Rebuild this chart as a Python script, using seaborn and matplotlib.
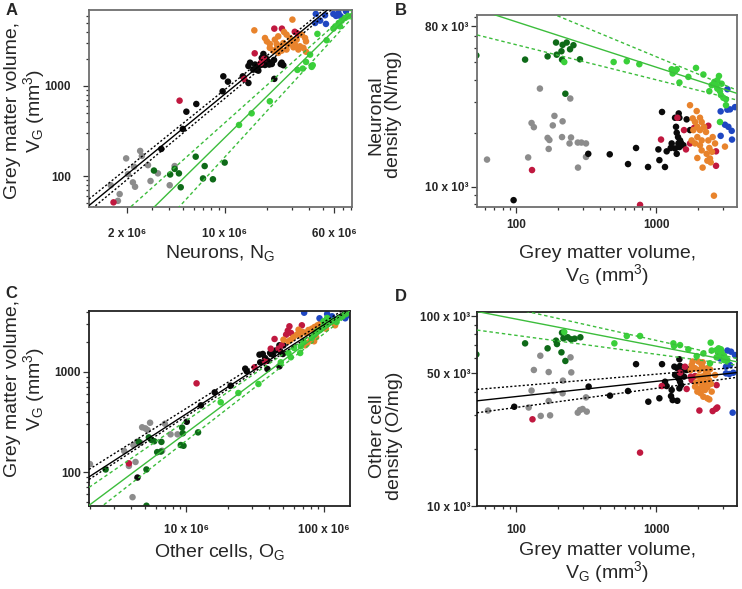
import numpy as np
import pandas as pd
import seaborn as sns
import matplotlib.pyplot as plt
from matplotlib.ticker import FixedLocator, FixedFormatter, LogLocator, NullFormatter

sns.set_style('white')
plt.rcParams['font.family'] = ['Liberation Sans', 'DejaVu Sans']
plt.rcParams['mathtext.default'] = 'regular'

# Panel A: neurons (N) vs grey matter volume (mm3)
A_GRAY = [(2.48e6, 190), (2.55e6, 167), (1.97e6, 157), (2.82e6, 132), (2.24e6, 127), (2.03e6, 105),
          (3.32e6, 107), (4.37e6, 129), (2.94e6, 88), (2.2e6, 85), (2.28e6, 76), (4.03e6, 79),
          (1.53e6, 79), (1.77e6, 63), (1.72e6, 53)]
A_BLACK = [(3.51e6, 200), (5.0e6, 333), (5.3e6, 518), (6.24e6, 631), (9.62e6, 873), (9.73e6, 1280),
           (1.05e7, 1117), (1.34e7, 1280), (1.47e7, 1080), (1.47e7, 1668), (1.51e7, 1816), (1.59e7, 1520),
           (1.64e7, 1730), (1.68e7, 1520), (1.73e7, 1480), (1.78e7, 1700), (1.83e7, 2050), (1.88e7, 2268),
           (1.93e7, 1711), (1.96e7, 2032), (1.99e7, 1880), (2.04e7, 1862), (2.07e7, 1730), (2.16e7, 1755),
           (2.24e7, 1945), (2.25e7, 1200), (2.50e7, 1750), (2.61e7, 1700), (2.54e7, 1816)]
A_RED = [(1.6e6, 51), (4.74e6, 687), (1.37e7, 1196), (1.63e7, 2306), (1.9e7, 1995), (2.25e7, 4335),
         (2.55e7, 4335), (3.3e7, 3811), (3.15e7, 4000), (1.8e7, 1800)]
A_ORANGE = [(1.62e7, 4150), (3.03e7, 5460), (1.99e7, 3130), (2.09e7, 2930), (2.27e7, 3270), (2.34e7, 2930),
            (2.64e7, 3980), (2.75e7, 3720), (2.91e7, 3410), (2.99e7, 3130), (3.16e7, 2880), (3.25e7, 3270),
            (3.53e7, 3720), (3.73e7, 3410), (3.79e7, 3130), (3.43e7, 2760), (3.34e7, 2540), (3.08e7, 2690),
            (2.83e7, 2880), (2.61e7, 3000), (2.47e7, 2760), (2.34e7, 2600), (2.21e7, 2470), (2.09e7, 2650),
            (2.75e7, 2540), (2.54e7, 2470), (2.40e7, 2330), (2.40e7, 3560), (3.63e7, 2650), (1.93e7, 3410),
            (3.79e7, 2400)]
A_BLUE = [(4.45e7, 6310), (5.18e7, 6100), (5.94e7, 6310), (6.21e7, 6000), (6.70e7, 5950), (4.40e7, 5010),
          (4.78e7, 5320), (5.26e7, 4890), (6.46e7, 6470), (7.31e7, 6760)]
A_DKGREEN = [(3.11e6, 115), (4.06e6, 104), (4.37e6, 120), (4.69e6, 107), (6.18e6, 164), (4.83e6, 75),
             (7.16e6, 129), (6.97e6, 94), (8.2e6, 92), (9.95e6, 141)]
A_LTGREEN = [(1.26e7, 369), (1.55e7, 497), (2.09e7, 676), (3.29e7, 1510), (3.59e7, 1560), (4.16e7, 1630),
             (4.23e7, 1700), (3.79e7, 1850), (4.05e7, 2230), (4.57e7, 3790), (5.32e7, 3220), (5.94e7, 4340),
             (6.14e7, 4600), (6.49e7, 5010), (6.81e7, 5320), (7.20e7, 5700), (7.60e7, 5950), (6.62e7, 4600)]

# Panel B: grey matter volume vs neuronal density (N/mg)
B_GRAY = [(148, 35.6e3), (244, 31.3e3), (129, 22.8e3), (134, 21.6e3), (188, 25.0e3), (215, 23.3e3),
          (183, 22.1e3), (168, 18.8e3), (173, 18.3e3), (213, 19.0e3), (247, 18.9e3), (241, 17.5e3),
          (276, 17.7e3), (293, 17.7e3), (316, 17.5e3), (171, 16.3e3), (316, 14.7e3), (122, 14.6e3),
          (62, 14.2e3), (277, 12.8e3)]
B_BLACK = [(96, 8.4e3), (328, 15.3e3), (467, 15.2e3), (631, 13.4e3), (720, 16.5e3), (877, 12.9e3),
           (1104, 26.3e3), (1159, 12.9e3), (1057, 14.1e3), (1040, 16.2e3), (1192, 15.8e3), (1273, 16.5e3),
           (1294, 17.5e3), (1368, 24.4e3), (1453, 25.8e3), (1469, 24.4e3), (1390, 21.7e3), (1406, 20.1e3),
           (1437, 19.0e3), (1485, 18.2e3), (1445, 17.5e3), (1510, 17.6e3), (1568, 17.1e3), (1469, 16.7e3),
           (1406, 15.3e3), (1368, 16.4e3), (1656, 23.9e3), (1750, 20.8e3)]
B_RED = [(130, 12.4e3), (769, 7.9e3), (1422, 24.4e3), (1086, 18.4e3), (1585, 20.8e3), (1750, 17.5e3),
         (1637, 16.2e3), (2365, 22.0e3), (2685, 15.8e3), (2685, 13.1e3), (1871, 21.4e3)]
B_ORANGE = [(1750, 28.7e3), (1953, 26.6e3), (1829, 24.2e3), (1901, 23.1e3), (2062, 24.4e3), (2120, 23.1e3),
            (1974, 21.7e3), (1849, 20.8e3), (2062, 20.8e3), (2203, 21.7e3), (2277, 20.3e3), (1974, 19.0e3),
            (2120, 18.2e3), (1798, 18.2e3), (1901, 17.5e3), (2365, 18.2e3), (2404, 16.5e3), (2062, 17.1e3),
            (2120, 16.0e3), (1974, 14.5e3), (2432, 14.4e3), (2460, 13.7e3), (2153, 12.8e3), (2541, 19.0e3),
            (2642, 17.5e3), (2512, 15.7e3), (2301, 15.3e3), (2328, 14.0e3), (3110, 16.8e3), (2594, 8.9e3)]
B_BLUE = [(3236, 35.3e3), (2897, 26.5e3), (3236, 27.1e3), (3381, 27.2e3), (3667, 28.0e3), (2897, 19.3e3),
          (3110, 22.3e3), (3289, 21.7e3), (3475, 20.6e3), (3491, 18.4e3)]
B_DKGREEN = [(52, 54.7e3), (116, 51.8e3), (168, 54.0e3), (193, 64.6e3), (215, 62.7e3), (230, 64.6e3),
             (257, 62.4e3), (243, 59.2e3), (211, 57.7e3), (195, 55.2e3), (213, 51.8e3), (286, 52.0e3),
             (225, 33.3e3)]
B_LTGREEN = [(221, 50.2e3), (498, 50.2e3), (618, 50.7e3), (760, 48.8e3), (1294, 45.7e3), (1368, 44.6e3),
             (1406, 45.7e3), (1315, 43.3e3), (1470, 38.5e3), (1703, 41.4e3), (1931, 46.5e3), (2180, 42.7e3),
             (2404, 34.4e3), (2500, 37.2e3), (2612, 38.8e3), (2742, 39.6e3), (2818, 41.9e3), (2944, 37.9e3),
             (2742, 35.6e3), (2864, 34.4e3), (2911, 32.7e3), (3027, 31.6e3), (3162, 31.0e3), (2685, 37.2e3),
             (2864, 23.1e3), (3162, 28.7e3)]

# Panel C: other cells (O) vs grey matter volume
C_GRAY = [(4.8e6, 280), (5.07e6, 273), (5.48e6, 311), (5.25e6, 263), (7.01e6, 304), (7.71e6, 238),
          (8.66e6, 238), (6.70e6, 163), (4.42e6, 201), (4.67e6, 196), (4.30e6, 126), (3.85e6, 115),
          (4.09e6, 56), (2.01e6, 120), (3.56e6, 162), (4.15e6, 186)]
C_BLACK = [(4.44e6, 88), (1.01e7, 318), (1.28e7, 464), (1.61e7, 626), (2.1e7, 730), (2.68e7, 1080),
           (2.75e7, 1016), (3.40e7, 1491), (3.44e7, 1250), (3.73e7, 1380), (3.88e7, 1298), (4.06e7, 1549),
           (4.24e7, 1491), (4.41e7, 1634), (4.74e7, 1849), (4.80e7, 1610), (5.02e7, 1514), (5.07e7, 1849),
           (3.88e7, 1072), (4.74e7, 1140), (3.59e7, 1514)]
C_RED = [(1.19e7, 770), (3.85e6, 122), (5.60e7, 2864), (5.45e7, 2588), (5.30e7, 2362), (5.75e7, 2455),
         (6.89e7, 2931), (4.37e7, 2138), (4.10e7, 1710), (4.67e7, 1710), (4.93e7, 1849), (3.73e7, 1279),
         (3.13e7, 1114)]
C_ORANGE = [(6.52e7, 2650), (5.51e7, 2028), (5.73e7, 2104), (5.99e7, 2222), (6.33e7, 2362), (6.70e7, 2328),
            (7.00e7, 2512), (7.40e7, 2455), (7.69e7, 2630), (8.13e7, 2710), (8.51e7, 2818), (8.94e7, 2931),
            (1.03e8, 2710), (8.00e7, 2089), (8.45e7, 2028), (8.74e7, 2222), (7.57e7, 1950), (7.28e7, 1849),
            (1.20e8, 2931), (9.35e7, 3041), (5.07e7, 2104)]
C_BLUE = [(7.16e7, 3917), (9.25e7, 3445), (1.05e8, 3802), (1.14e8, 3605), (1.42e8, 3445), (1.5e8, 3715)]
C_DKGREEN = [(2.61e6, 106), (4.54e6, 200), (5.37e6, 222), (5.61e6, 209), (5.87e6, 203), (6.62e6, 200),
             (6.56e6, 160), (6.17e6, 158), (5.16e6, 106), (5.16e6, 46), (9.35e6, 278), (9.46e6, 244),
             (9.15e6, 186), (9.57e6, 183), (1.22e7, 249)]
C_LTGREEN = [(1.78e7, 498), (2.39e7, 617), (3.34e7, 759), (4.85e7, 1250), (5.73e7, 1403), (5.51e7, 1549),
             (6.05e7, 1738), (6.70e7, 1549), (6.77e7, 1807), (7.08e7, 2028), (8.13e7, 2188), (8.51e7, 2362),
             (8.84e7, 2552), (9.35e7, 2650), (9.89e7, 2864), (1.06e8, 3020), (1.12e8, 3162), (1.17e8, 3261),
             (1.23e8, 3162), (1.27e8, 3467), (1.36e8, 3605), (1.44e8, 3802), (9.89e7, 3214), (1.05e8, 3467)]

# Panel D: grey matter volume vs other cell density (O/mg)
D_GRAY = [(149, 61.8e3), (245, 60.6e3), (134, 52.0e3), (171, 50.7e3), (248, 50.5e3), (216, 45.7e3),
          (129, 40.5e3), (186, 40.3e3), (215, 39.2e3), (171, 35.7e3), (123, 33.0e3), (316, 37.3e3),
          (286, 32.0e3), (299, 32.4e3), (276, 31.0e3), (320, 31.4e3), (63, 31.8e3), (175, 30.0e3),
          (150, 29.8e3)]
D_BLACK = [(97, 33.3e3), (330, 42.5e3), (469, 38.1e3), (631, 40.3e3), (720, 55.8e3), (881, 35.4e3),
           (1104, 55.8e3), (1057, 36.9e3), (1160, 45.1e3), (1191, 42.8e3), (1294, 40.8e3), (1280, 37.9e3),
           (1315, 36.1e3), (1420, 35.8e3), (1368, 49.0e3), (1420, 53.1e3), (1485, 54.6e3), (1469, 59.2e3),
           (1525, 51.0e3), (1584, 48.0e3), (1445, 47.0e3), (1485, 45.1e3), (1469, 41.6e3), (1510, 43.3e3),
           (1656, 52.0e3), (1721, 52.4e3), (1353, 54.1e3)]
D_RED = [(131, 28.6e3), (769, 19.1e3), (1485, 50.3e3), (1099, 42.8e3), (1611, 54.1e3), (1656, 41.3e3),
         (1770, 48.0e3), (1798, 46.0e3), (1901, 48.3e3), (2042, 31.8e3), (2710, 43.3e3), (2685, 32.5e3),
         (2541, 31.6e3), (2742, 33.0e3)]
D_ORANGE = [(1828, 57.6e3), (2009, 57.6e3), (2155, 57.1e3), (1798, 55.2e3), (2120, 55.2e3), (1901, 53.1e3),
            (2042, 52.0e3), (2179, 53.1e3), (2275, 51.0e3), (2328, 53.1e3), (2432, 52.4e3), (2366, 48.9e3),
            (2240, 48.9e3), (2120, 48.0e3), (2009, 48.0e3), (1932, 44.6e3), (2062, 45.1e3), (2203, 46.0e3),
            (2275, 44.2e3), (2404, 45.7e3), (2472, 43.9e3), (2155, 42.8e3), (2042, 41.6e3), (1974, 40.0e3),
            (1901, 42.5e3), (2084, 39.2e3), (2240, 40.8e3), (2328, 42.1e3), (2500, 40.0e3), (2179, 37.6e3),
            (2328, 36.9e3), (2404, 36.4e3), (2642, 48.9e3), (1770, 52.0e3)]
D_BLUE = [(3236, 65.8e3), (3436, 64.9e3), (3667, 62.3e3), (2864, 59.8e3), (3027, 61.1e3), (3162, 54.1e3),
          (3381, 55.2e3), (3162, 49.9e3), (3342, 49.5e3), (3565, 50.3e3), (3530, 31.0e3)]
D_DKGREEN = [(52, 62.8e3), (116, 71.8e3), (168, 67.6e3), (193, 74.2e3), (196, 71.2e3), (213, 81.7e3),
             (218, 76.3e3), (234, 77.3e3), (247, 75.4e3), (262, 76.0e3), (288, 77.3e3), (211, 64.4e3),
             (225, 58.0e3)]
D_LTGREEN = [(221, 82.4e3), (504, 71.8e3), (618, 78.5e3), (769, 78.5e3), (1331, 71.8e3), (1346, 69.5e3),
             (1485, 70.3e3), (1703, 66.8e3), (1953, 61.5e3), (2180, 63.5e3), (2459, 72.4e3), (2500, 65.8e3),
             (2432, 56.4e3), (2710, 66.2e3), (2803, 67.6e3), (2911, 66.8e3), (2944, 64.1e3), (2833, 62.3e3),
             (2710, 60.6e3), (3064, 58.6e3), (3236, 58.6e3), (3064, 61.7e3)]

# Power-law fits: log10(y) = a + b*log10(x)  [center, upper, lower]
A_FIT_BLACK = [(-6.021, 1.276), (-5.817, 1.254), (-6.180, 1.292)]
A_FIT_GREEN = [(-8.268, 1.528), (-7.137, 1.390), (-9.687, 1.700)]
B_FIT_GREEN = [(5.437, -0.255), (5.709, -0.326), (5.192, -0.197)]
C_FIT_BLACK = [(-3.678, 0.894), (-3.427, 0.866), (-3.729, 0.898)]
C_FIT_GREEN = [(-4.819, 1.030), (-4.123, 0.948), (-5.199, 1.073)]
D_FIT_BLACK = [(4.416, 0.080), (4.506, 0.0626), (4.318, 0.1004)]
D_FIT_GREEN = [(5.269, -0.1425), (5.366, -0.1647), (5.097, -0.0994)]

COLORS = {'gray': '#8c8c8c', 'black': '#0a0a0a', 'red': '#c0183f', 'orange': '#e8832c',
          'blue': '#1f47c2', 'dkgreen': '#0e6a18', 'ltgreen': '#3ad03a'}
FIT_COLORS = {'black': '#000000', 'green': '#3cbd3c'}


def to_frame(groups):
    parts = []
    for name, pts in groups:
        d = pd.DataFrame(pts, columns=['x', 'y'])
        d['group'] = name
        parts.append(d)
    return pd.concat(parts, ignore_index=True)


def draw_fit(ax, params, color, ci_style):
    xs = np.geomspace(*ax.get_xlim(), 100)
    for i, (a, b) in enumerate(params):
        ls = '-' if i == 0 else ci_style
        ax.plot(xs, 10 ** (a + b * np.log10(xs)), color=color, lw=1.0, ls=ls, zorder=3)


def draw_panel(ax, groups, xlim, ylim, xt, xtl, yt, ytl, fits, frame, xpad, ypad):
    df = to_frame(groups)
    sns.scatterplot(data=df, x='x', y='y', hue='group', palette=COLORS, s=22,
                    linewidth=0, legend=False, ax=ax, zorder=2)
    ax.set_xscale('log')
    ax.set_yscale('log')
    ax.set_xlim(*xlim)
    ax.set_ylim(*ylim)
    for params, key, style in fits:
        draw_fit(ax, params, FIT_COLORS[key], style)
    for axis, ticks, labels in ((ax.xaxis, xt, xtl), (ax.yaxis, yt, ytl)):
        axis.set_major_locator(FixedLocator(ticks))
        axis.set_major_formatter(FixedFormatter(labels))
        axis.set_minor_locator(LogLocator(base=10, subs=np.arange(2, 10)))
        axis.set_minor_formatter(NullFormatter())
    ax.tick_params(which='both', direction='out', bottom=True, left=True, top=False, right=False,
                   width=0.9, color='#333333')
    ax.tick_params(which='major', length=4)
    ax.tick_params(which='minor', length=2.5)
    ax.tick_params(axis='x', pad=xpad, labelsize=8.5)
    ax.tick_params(axis='y', pad=ypad, labelsize=8.5)
    for lab in ax.get_xticklabels() + ax.get_yticklabels():
        lab.set_fontweight('bold')
    for sp in ax.spines.values():
        sp.set_color(frame)
        sp.set_linewidth(1.3)
    ax.set_xlabel('')
    ax.set_ylabel('')


fig = plt.figure(figsize=(7.42, 5.89), dpi=100)
axA = fig.add_axes([0.120, 0.6486, 0.3544, 0.3345])
axB = fig.add_axes([0.6429, 0.6486, 0.3504, 0.3260])
axC = fig.add_axes([0.120, 0.1409, 0.3518, 0.3311])
axD = fig.add_axes([0.6429, 0.1409, 0.3504, 0.3294])

dotted = (0, (1.5, 1.5))
dashed = (0, (2.5, 2))

draw_panel(axA, [('gray', A_GRAY), ('black', A_BLACK), ('red', A_RED), ('orange', A_ORANGE),
                 ('blue', A_BLUE), ('dkgreen', A_DKGREEN), ('ltgreen', A_LTGREEN)],
           (1.07e6, 8.07e7), (45.3, 6990), [2e6, 1e7, 6e7], ['2 x 10⁶', '10 x 10⁶', '60 x 10⁶'],
           [100, 1000], ['100', '1000'],
           [(A_FIT_BLACK, 'black', dotted), (A_FIT_GREEN, 'green', dashed)], '#6e6e6e', 11, 9)

draw_panel(axB, [('gray', B_GRAY), ('black', B_BLACK), ('red', B_RED), ('orange', B_ORANGE),
                 ('blue', B_BLUE), ('dkgreen', B_DKGREEN), ('ltgreen', B_LTGREEN)],
           (52.6, 3793), (7.69e3, 92.3e3), [100, 1000], ['100', '1000'],
           [10e3, 80e3], ['10 x 10³', '80 x 10³'],
           [(B_FIT_GREEN, 'green', dashed)], '#6e6e6e', 5, 2)

draw_panel(axC, [('gray', C_GRAY), ('black', C_BLACK), ('red', C_RED), ('orange', C_ORANGE),
                 ('blue', C_BLUE), ('dkgreen', C_DKGREEN), ('ltgreen', C_LTGREEN)],
           (1.98e6, 1.54e8), (45.7, 4074), [1e7, 1e8], ['10 x 10⁶', '100 x 10⁶'],
           [100, 1000], ['100', '1000'],
           [(C_FIT_BLACK, 'black', dotted), (C_FIT_GREEN, 'green', dashed)], '#222222', 9, 2)

draw_panel(axD, [('gray', D_GRAY), ('black', D_BLACK), ('red', D_RED), ('orange', D_ORANGE),
                 ('blue', D_BLUE), ('dkgreen', D_DKGREEN), ('ltgreen', D_LTGREEN)],
           (52.6, 3793), (10e3, 105e3), [100, 1000], ['100', '1000'],
           [10e3, 50e3, 100e3], ['10 x 10³', '50 x 10³', '100 x 10³'],
           [(D_FIT_BLACK, 'black', dotted), (D_FIT_GREEN, 'green', dashed)], '#222222', 9, 1)

vg = 'Grey matter volume,\nV$_{G}$ (mm$^{3}$)'
lab = dict(fontsize=14, linespacing=1.0)
axA.set_xlabel('Neurons, N$_{G}$', **lab)
axA.set_ylabel(vg, **lab)
axA.xaxis.set_label_coords(0.5, -0.185)
axA.yaxis.set_label_coords(-0.16, 0.49)

axB.set_xlabel(vg, **lab)
axB.set_ylabel('Neuronal\ndensity (N/mg)', **lab)
axB.xaxis.set_label_coords(0.5, -0.2)
axB.yaxis.set_label_coords(-0.29, 0.48)

axC.set_xlabel('Other cells, O$_{G}$', **lab)
axC.set_ylabel(vg, **lab)
axC.xaxis.set_label_coords(0.5, -0.185)
axC.yaxis.set_label_coords(-0.16, 0.6)

axD.set_xlabel(vg, **lab)
axD.set_ylabel('Other cell\ndensity (O/mg)', **lab)
axD.xaxis.set_label_coords(0.5, -0.185)
axD.yaxis.set_label_coords(-0.285, 0.36)

for letter, x, y in (('A', 0.007, 0.995), ('B', 0.532, 0.995), ('C', 0.007, 0.515), ('D', 0.532, 0.51)):
    fig.text(x, y, letter, fontsize=12, fontweight='bold', va='top', ha='left')

fig.savefig('out.png', dpi=100)
